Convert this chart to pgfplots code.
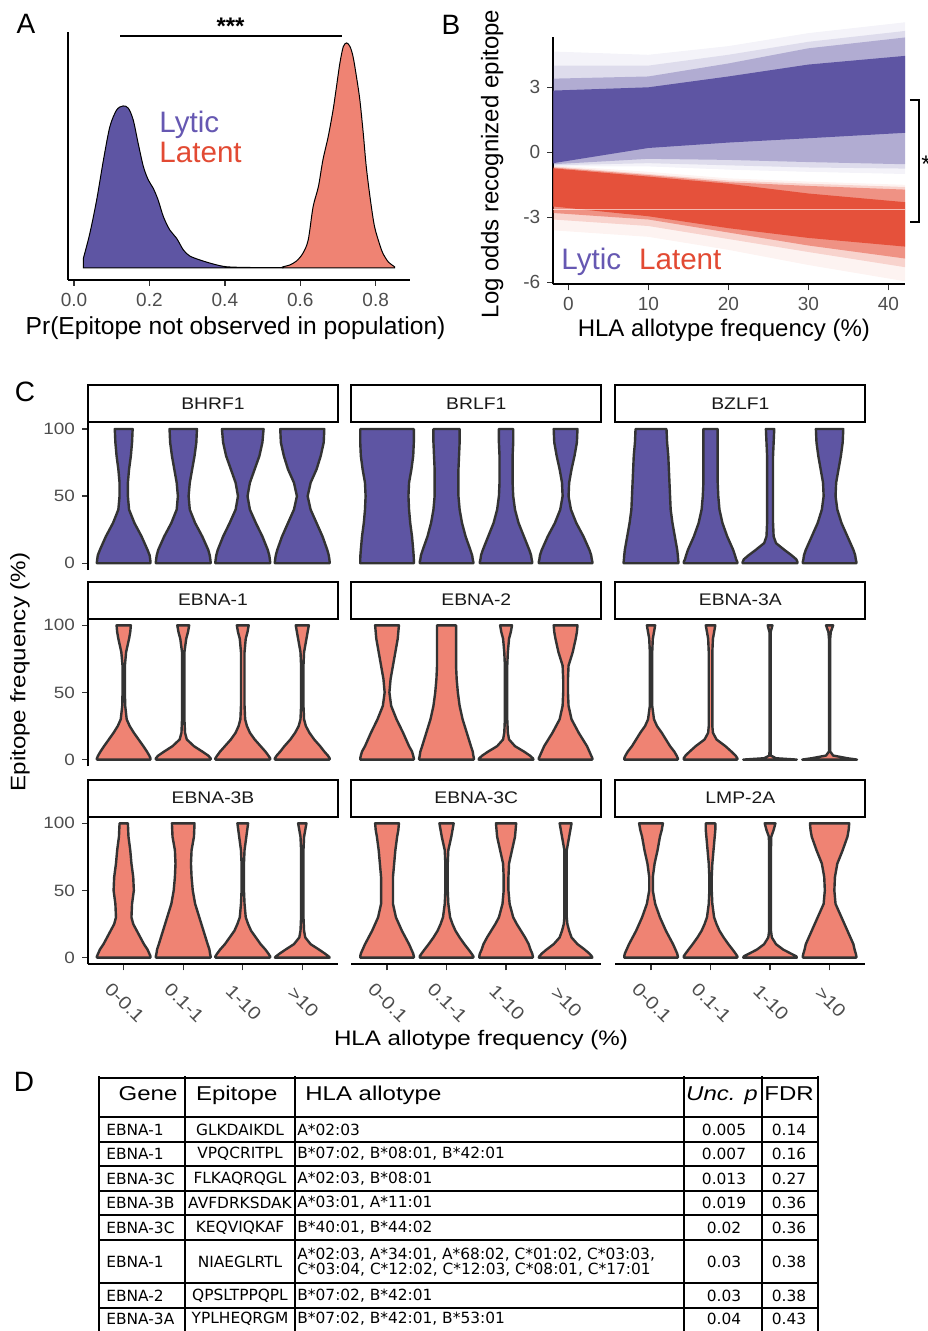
\documentclass[border=0pt]{standalone}
\usepackage{fontspec}
\setmainfont{Liberation Sans}
\newfontfamily\cfont{Liberation Sans}[FakeStretch=1.15]
\newfontfamily\hdrfont{Liberation Sans}[FakeStretch=1.2]
\newfontfamily\tabfont{DejaVu Sans}
\usepackage{pgfplots}
\usepackage{pgfplotstable}
\pgfplotsset{compat=1.18}

\definecolor{lytic}{HTML}{5E55A3}
\definecolor{latentfill}{HTML}{EF8373}
\definecolor{latentB}{HTML}{E5513B}
\definecolor{lytictxt}{HTML}{6658B2}
\definecolor{latenttxt}{HTML}{E24A33}
\definecolor{tickgray}{HTML}{4D4D4D}
\definecolor{vline}{HTML}{333333}

% violin half-widths (category units) at each epitope frequency
\pgfplotstableread{
y w1 w2 w3 w4
0 .45 .46 .46 .46
1 .45 .46 .46 .46
3 .445 .455 .455 .455
6 .435 .445 .445 .445
10 .40 .42 .42 .42
15 .35 .37 .375 .38
20 .30 .32 .33 .34
25 .24 .26 .275 .29
30 .18 .20 .22 .24
40 .09 .11 .12 .14
50 .07 .09 .08 .09
60 .07 .11 .12 .14
70 .09 .15 .20 .24
80 .12 .19 .28 .31
90 .14 .22 .33 .36
95 .145 .225 .34 .365
100 .15 .23 .35 .37
}\tBHRF
\pgfplotstableread{
y w1 w2 w3 w4
0 .45 .45 .44 .45
1 .45 .45 .44 .45
3 .45 .44 .43 .44
6 .447 .43 .42 .43
10 .44 .40 .39 .40
15 .43 .36 .345 .35
20 .42 .32 .30 .30
25 .405 .29 .255 .24
30 .39 .26 .21 .18
40 .37 .22 .15 .09
50 .36 .20 .12 .05
60 .37 .20 .11 .06
70 .41 .20 .11 .10
80 .44 .21 .11 .15
90 .45 .22 .12 .19
95 .45 .22 .12 .195
100 .45 .22 .12 .20
}\tBRLF
\pgfplotstableread{
y w1 w2 w3 w4
0 .46 .45 .46 .45
1 .46 .45 .46 .45
3 .455 .43 .44 .44
6 .45 .41 .36 .43
10 .44 .38 .24 .40
15 .42 .33 .10 .35
20 .40 .28 .06 .30
25 .38 .24 .055 .25
30 .36 .20 .05 .20
40 .33 .15 .05 .13
50 .32 .13 .05 .10
60 .31 .12 .05 .11
70 .30 .12 .05 .15
80 .29 .12 .05 .19
90 .27 .12 .06 .22
95 .265 .12 .065 .225
100 .26 .12 .07 .23
}\tBZLF
\pgfplotstableread{
y w1 w2 w3 w4
0 .45 .46 .46 .46
1 .45 .46 .46 .46
3 .43 .42 .43 .43
6 .39 .32 .38 .37
10 .33 .18 .30 .30
15 .25 .06 .20 .20
20 .17 .03 .12 .12
25 .10 .025 .07 .06
30 .05 .02 .04 .03
40 .025 .02 .03 .02
50 .02 .02 .03 .02
60 .02 .02 .03 .02
70 .02 .02 .03 .02
80 .04 .02 .03 .03
90 .09 .05 .05 .07
95 .11 .08 .08 .09
100 .12 .10 .10 .11
}\tEBNAone
\pgfplotstableread{
y w1 w2 w3 w4
0 .45 .46 .46 .45
1 .45 .46 .45 .45
3 .44 .45 .40 .43
6 .42 .44 .30 .40
10 .37 .41 .15 .36
15 .32 .375 .05 .29
20 .27 .34 .03 .22
25 .215 .305 .025 .16
30 .16 .27 .02 .10
40 .07 .22 .02 .05
50 .04 .19 .02 .04
60 .06 .17 .02 .04
70 .10 .16 .02 .05
80 .14 .16 .03 .12
90 .18 .16 .05 .17
95 .19 .16 .08 .19
100 .20 .16 .10 .20
}\tEBNAtwo
\pgfplotstableread{
y w1 w2 w3 w4
0 .45 .45 .45 .46
1 .45 .45 .10 .30
3 .43 .42 .012 .06
6 .39 .35 .01 .01
10 .32 .25 .01 .01
15 .25 .10 .01 .01
20 .18 .04 .01 .01
25 .10 .03 .01 .01
30 .05 .03 .01 .01
40 .02 .03 .01 .01
50 .02 .03 .01 .01
60 .02 .03 .01 .01
70 .02 .03 .01 .01
80 .02 .03 .01 .01
90 .03 .04 .01 .01
95 .05 .06 .01 .02
100 .07 .08 .04 .06
}\tEBNAthA
\pgfplotstableread{
y w1 w2 w3 w4
0 .45 .46 .46 .46
1 .45 .46 .46 .44
3 .43 .45 .43 .38
6 .40 .44 .38 .28
10 .34 .41 .30 .14
15 .28 .375 .22 .05
20 .22 .34 .14 .03
25 .16 .305 .09 .025
30 .13 .27 .05 .02
40 .14 .20 .03 .02
50 .17 .16 .02 .02
60 .16 .14 .02 .02
70 .13 .13 .02 .02
80 .11 .14 .03 .02
90 .08 .18 .06 .03
95 .075 .185 .075 .05
100 .07 .19 .09 .07
}\tEBNAthB
\pgfplotstableread{
y w1 w2 w3 w4
0 .45 .45 .45 .45
1 .45 .45 .45 .44
3 .44 .42 .44 .40
6 .41 .37 .41 .32
10 .37 .30 .38 .20
15 .31 .22 .32 .10
20 .25 .15 .25 .06
25 .20 .10 .18 .03
30 .15 .06 .12 .02
40 .10 .03 .06 .02
50 .10 .02 .04 .02
60 .10 .02 .04 .02
70 .12 .02 .05 .02
80 .14 .03 .10 .02
90 .17 .08 .15 .06
95 .19 .10 .16 .08
100 .20 .12 .17 .10
}\tEBNAthC
\pgfplotstableread{
y w1 w2 w3 w4
0 .45 .45 .45 .45
1 .45 .45 .44 .45
3 .44 .42 .35 .44
6 .41 .37 .22 .42
10 .37 .30 .10 .40
15 .31 .22 .03 .35
20 .25 .15 .015 .30
25 .20 .10 .015 .25
30 .15 .06 .015 .20
40 .07 .03 .015 .10
50 .03 .02 .015 .08
60 .03 .02 .015 .09
70 .06 .03 .015 .13
80 .11 .05 .015 .22
90 .15 .07 .02 .30
95 .18 .08 .06 .32
100 .20 .08 .09 .33
}\tLMP

% append the rows again from top to bottom, so each table traces a closed outline
\newcommand{\closeoutline}[1]{%
  \pgfplotstablesort[sort key=y, sort cmp=float >]{\tdown}{#1}%
  \pgfplotstablevertcat{#1}{\tdown}}
\closeoutline{\tBHRF}\closeoutline{\tBRLF}\closeoutline{\tBZLF}
\closeoutline{\tEBNAone}\closeoutline{\tEBNAtwo}\closeoutline{\tEBNAthA}
\closeoutline{\tEBNAthB}\closeoutline{\tEBNAthC}\closeoutline{\tLMP}

% one violin: table, width column, category position, fill colour
\newcommand{\violin}[4]{%
  \addplot[fill=#4, draw=vline, line width=1.2pt, line join=round]
    table[x expr={#3+ifthenelse(\coordindex<17,1,-1)*\thisrow{#2}}, y=y]{#1} --cycle;}
\newcommand{\violins}[2]{%
  \violin{#1}{w1}{1}{#2}\violin{#1}{w2}{2}{#2}\violin{#1}{w3}{3}{#2}\violin{#1}{w4}{4}{#2}}

\pgfplotsset{
  gg/.style={scale only axis, axis lines=left, axis line style={-, line width=1pt, black},
    tick align=outside, major tick length=3pt, tick style={line width=0.7pt, black!80},
    clip=false},
  facet/.style={gg, anchor=north west, width=125pt, height=73.85pt,
    xmin=0.4, xmax=4.6, ymin=-5, ymax=105,
    xtick=\empty, ytick=\empty,
    x axis line style={draw=none}, y axis line style={draw=none},
    ticklabel style={font=\cfont\fontsize{8.2}{9}\selectfont, text=tickgray}},
  leftcol/.style={y axis line style={draw=black}, ytick={0,50,100}, yticklabels={0,50,100}},
  bottomrow/.style={x axis line style={draw=black}, xtick={1,2,3,4},
    xticklabels={0-0.1,0.1-1,1-10,>10},
    xticklabel style={font=\cfont\fontsize{9}{9}\selectfont,
      yshift=-16pt, xshift=0.5pt, rotate=-45, anchor=center}},
}

\newcommand{\strip}[3]{% left x, top y, label
  \draw[line width=1pt, fill=white] (#1,#2) rectangle ++(250,36.8);
  \node[anchor=base, font=\cfont\fontsize{8.4}{9}\selectfont, text=black!90] at (#1+125,#2+23.6) {#3};}

\begin{document}
\begin{tikzpicture}[x=0.5pt,y=-0.5pt]
\useasboundingbox (0,0) rectangle (927,1331);

\begin{scope}[font=\fontsize{14}{14}\selectfont]
\node at (26,24) {A};
\node at (451,25) {B};
\node at (25,392) {C};
\node at (24,1082) {D};
\end{scope}

% ---------- A ----------
\begin{axis}[gg, at={(34pt,-140pt)}, anchor=south west,
  width=171pt, height=124.15pt,
  xmin=-0.016, xmax=0.891, ymin=-0.48, ymax=9.45,
  xtick={0,0.2,0.4,0.6,0.8}, xticklabels={0.0,0.2,0.4,0.6,0.8}, ytick=\empty,
  xticklabel style={font=\fontsize{9.5}{10}\selectfont, text=tickgray},
  xlabel={Pr(Epitope not observed in population)},
  xlabel style={font=\fontsize{12.3}{14}\selectfont, at={(axis description cs:0.49,-0.194)}, anchor=center}]
\addplot[fill=lytic, draw=black, line width=0.5pt, smooth, tension=0.5] coordinates {
  (0.025,0.40) (0.042,1.39) (0.060,2.72) (0.078,4.32) (0.095,5.65) (0.113,6.32)
  (0.130,6.48) (0.144,6.39) (0.157,5.92) (0.170,4.99) (0.184,4.05) (0.197,3.52)
  (0.210,3.19) (0.223,2.72) (0.237,2.05) (0.254,1.52) (0.272,1.19) (0.290,0.72)
  (0.307,0.48) (0.334,0.32) (0.369,0.16) (0.404,0.05) (0.466,0.02) (0.554,0.02)
} \closedcycle;
\addplot[fill=latentfill, draw=black, line width=0.5pt, smooth, tension=0.5] coordinates {
  (0.554,0.05) (0.572,0.12) (0.590,0.28) (0.607,0.59) (0.621,1.12) (0.634,2.45)
  (0.648,3.25) (0.660,4.32) (0.674,5.25) (0.687,6.32) (0.696,7.25) (0.705,8.19)
  (0.714,8.85) (0.723,9.00) (0.732,8.85) (0.740,8.45) (0.749,7.65) (0.758,6.72)
  (0.767,5.39) (0.775,4.05) (0.786,2.72) (0.797,1.65) (0.811,0.92) (0.819,0.59)
  (0.833,0.25) (0.850,0.05)
} \closedcycle;
\addplot[black, line width=1.2pt] coordinates {(0.122,9.28) (0.710,9.28)};
\node[anchor=base, font=\bfseries\fontsize{12}{12}\selectfont, yshift=0.5pt] at (axis cs:0.415,9.28) {***};
\end{axis}
\node[anchor=base west, inner sep=0, text=lytictxt, font=\fontsize{14.8}{15}\selectfont] at (159,133) {Lytic};
\node[anchor=base west, inner sep=0, text=latenttxt, font=\fontsize{14.8}{15}\selectfont] at (159,163) {Latent};

% ---------- B ----------
\begin{axis}[gg, at={(276.65pt,-142.15pt)}, anchor=south west,
  width=175.85pt, height=123.8pt,
  xmin=-1.875, xmax=42.08, ymin=-6.09, ymax=5.335,
  xtick={0,10,20,30,40}, xticklabels={0,10,20,30,40},
  ytick={-6,-3,0,3}, yticklabels={-6,-3,0,3},
  ticklabel style={font=\fontsize{9.5}{10}\selectfont, text=tickgray},
  xlabel={HLA allotype frequency (\%)},
  xlabel style={font=\fontsize{12}{14}\selectfont, at={(axis description cs:0.485,-0.185)}, anchor=center},
  ylabel={Log odds recognized epitope},
  ylabel style={font=\fontsize{12}{14}\selectfont, at={(axis description cs:-0.174,0.486)}, anchor=center}]
% latent posterior lines, from the faint outer ones to the dense core
\addplot[draw=none, fill=latentB, fill opacity=0.07] coordinates {
  (-1.875,-0.6) (10,-0.9) (20,-1.2) (30,-1.35) (42.08,-1.5)
  (42.08,-5.95) (30,-5.2) (20,-4.5) (10,-3.9) (-1.875,-3.6)} --cycle;
\addplot[draw=none, fill=latentB, fill opacity=0.2] coordinates {
  (-1.875,-0.65) (10,-1.0) (20,-1.3) (30,-1.45) (42.08,-1.6)
  (42.08,-5.3) (30,-4.6) (20,-4.0) (10,-3.4) (-1.875,-3.1)} --cycle;
\addplot[draw=none, fill=latentB, fill opacity=0.5] coordinates {
  (-1.875,-0.7) (10,-1.05) (20,-1.38) (30,-1.55) (42.08,-1.72)
  (42.08,-4.9) (30,-4.3) (20,-3.7) (10,-3.1) (-1.875,-2.8)} --cycle;
\addplot[draw=none, fill=latentB] coordinates {
  (-1.875,-0.74) (10,-1.12) (20,-1.45) (30,-1.9) (42.08,-2.3)
  (42.08,-4.35) (30,-3.95) (20,-3.5) (10,-2.95) (-1.875,-2.5)} --cycle;
\addplot[white, line width=0.4pt, opacity=0.6] coordinates {(-1.875,-2.62) (42.08,-2.62)};
% lytic posterior lines
\addplot[draw=none, fill=lytic, fill opacity=0.07] coordinates {
  (-1.875,4.65) (10,4.5) (20,4.9) (30,5.5) (42.08,6.0)
  (42.08,-1.0) (30,-0.9) (20,-0.8) (10,-0.65) (-1.875,-0.65)} --cycle;
\addplot[draw=none, fill=lytic, fill opacity=0.15] coordinates {
  (-1.875,4.0) (10,4.0) (20,4.5) (30,5.1) (42.08,5.6)
  (42.08,-0.75) (30,-0.7) (20,-0.6) (10,-0.5) (-1.875,-0.6)} --cycle;
\addplot[draw=none, fill=lytic, fill opacity=0.35] coordinates {
  (-1.875,3.4) (10,3.5) (20,4.1) (30,4.8) (42.08,5.3)
  (42.08,-0.55) (30,-0.45) (20,-0.35) (10,-0.3) (-1.875,-0.55)} --cycle;
\addplot[draw=none, fill=lytic] coordinates {
  (-1.875,2.85) (10,3.0) (20,3.5) (30,4.05) (42.08,4.45)
  (42.08,0.9) (30,0.65) (20,0.45) (10,0.2) (-1.875,-0.5)} --cycle;
\addplot[black, line width=1pt] coordinates {(42.7,2.42) (43.85,2.42) (43.85,-3.21) (42.7,-3.21)};
\end{axis}
\node[anchor=base west, inner sep=0, text=lytictxt, font=\fontsize{14.8}{15}\selectfont] at (561,270) {Lytic};
\node[anchor=base west, inner sep=0, text=latenttxt, font=\fontsize{14.8}{15}\selectfont] at (638.7,270) {Latent};
\node[anchor=west, inner sep=0, font=\fontsize{12}{12}\selectfont] at (921,164) {*};

% ---------- C ----------
\begin{axis}[facet, leftcol, at={(44pt,-211.15pt)}]
\violins{\tBHRF}{lytic}
\end{axis}
\begin{axis}[facet, at={(175.65pt,-211.15pt)}]
\violins{\tBRLF}{lytic}
\end{axis}
\begin{axis}[facet, at={(307.65pt,-211.15pt)}]
\violins{\tBZLF}{lytic}
\end{axis}
\begin{axis}[facet, leftcol, at={(44pt,-309.3pt)}]
\violins{\tEBNAone}{latentfill}
\end{axis}
\begin{axis}[facet, at={(175.65pt,-309.3pt)}]
\violins{\tEBNAtwo}{latentfill}
\end{axis}
\begin{axis}[facet, at={(307.65pt,-309.3pt)}]
\violins{\tEBNAthA}{latentfill}
\end{axis}
\begin{axis}[facet, leftcol, bottomrow, at={(44pt,-408.3pt)}]
\violins{\tEBNAthB}{latentfill}
\end{axis}
\begin{axis}[facet, bottomrow, at={(175.65pt,-408.3pt)}]
\violins{\tEBNAthC}{latentfill}
\end{axis}
\begin{axis}[facet, bottomrow, at={(307.65pt,-408.3pt)}]
\violins{\tLMP}{latentfill}
\end{axis}

\strip{88}{385.5}{BHRF1}
\strip{351.3}{385.5}{BRLF1}
\strip{615.3}{385.5}{BZLF1}
\strip{88}{581.8}{EBNA-1}
\strip{351.3}{581.8}{EBNA-2}
\strip{615.3}{581.8}{EBNA-3A}
\strip{88}{779.8}{EBNA-3B}
\strip{351.3}{779.8}{EBNA-3C}
\strip{615.3}{779.8}{LMP-2A}

\node[rotate=90, font=\cfont\fontsize{10.5}{12}\selectfont] at (20,672) {Epitope frequency (\%)};
\node[font=\cfont\fontsize{10.5}{12}\selectfont] at (481,1040) {HLA allotype frequency (\%)};

% ---------- D ----------
\begin{scope}[line width=1pt]
\foreach \yy in {1078.3,1117.3,1141.7,1166,1190.7,1215,1240,1283.3,1308.3}
  \draw (99,\yy) -- (818,\yy);
\foreach \xx in {99,185,295,683.5,761.5,818}
  \draw (\xx,1076) -- (\xx,1340);
\end{scope}
\begin{scope}[font=\hdrfont\fontsize{10}{12}\selectfont]
\node[anchor=base] at (148,1100) {Gene};
\node[anchor=base] at (236.7,1100) {Epitope};
\node[anchor=base west, inner sep=0] at (305,1100) {HLA allotype};
\node[anchor=base] at (722,1100) {\itshape Unc. p};
\node[anchor=base] at (789,1100) {FDR};
\end{scope}
\begin{scope}[font=\tabfont\fontsize{7.7}{9}\selectfont, inner sep=0]
\node[anchor=west] at (106,1129.5) {EBNA-1};
\node at (240,1129.5) {GLKDAIKDL};
\node[anchor=west] at (297,1129.5) {A*02:03};
\node at (724,1129.5) {0.005};
\node at (789,1129.5) {0.14};
\node[anchor=west] at (106,1154) {EBNA-1};
\node at (240,1154) {VPQCRITPL};
\node[anchor=west] at (297,1154) {B*07:02, B*08:01, B*42:01};
\node at (724,1154) {0.007};
\node at (789,1154) {0.16};
\node[anchor=west] at (106,1178.4) {EBNA-3C};
\node at (240,1178.4) {FLKAQRQGL};
\node[anchor=west] at (297,1178.4) {A*02:03, B*08:01};
\node at (724,1178.4) {0.013};
\node at (789,1178.4) {0.27};
\node[anchor=west] at (106,1202.9) {EBNA-3B};
\node at (240,1202.9) {AVFDRKSDAK};
\node[anchor=west] at (297,1202.9) {A*03:01, A*11:01};
\node at (724,1202.9) {0.019};
\node at (789,1202.9) {0.36};
\node[anchor=west] at (106,1227.5) {EBNA-3C};
\node at (240,1227.5) {KEQVIQKAF};
\node[anchor=west] at (297,1227.5) {B*40:01, B*44:02};
\node at (724,1227.5) {0.02};
\node at (789,1227.5) {0.36};
\node[anchor=west] at (106,1261.7) {EBNA-1};
\node at (240,1261.7) {NIAEGLRTL};
\node[anchor=west] at (297,1255) {A*02:03, A*34:01, A*68:02, C*01:02, C*03:03,};
\node[anchor=west] at (297,1270) {C*03:04, C*12:02, C*12:03, C*08:01, C*17:01};
\node at (724,1261.7) {0.03};
\node at (789,1261.7) {0.38};
\node[anchor=west] at (106,1295.8) {EBNA-2};
\node at (240,1295.8) {QPSLTPPQPL};
\node[anchor=west] at (297,1295.8) {B*07:02, B*42:01};
\node at (724,1295.8) {0.03};
\node at (789,1295.8) {0.38};
\node[anchor=west] at (106,1319) {EBNA-3A};
\node at (240,1319) {YPLHEQRGM};
\node[anchor=west] at (297,1319) {B*07:02, B*42:01, B*53:01};
\node at (724,1319) {0.04};
\node at (789,1319) {0.43};
\end{scope}
\end{tikzpicture}
\end{document}
